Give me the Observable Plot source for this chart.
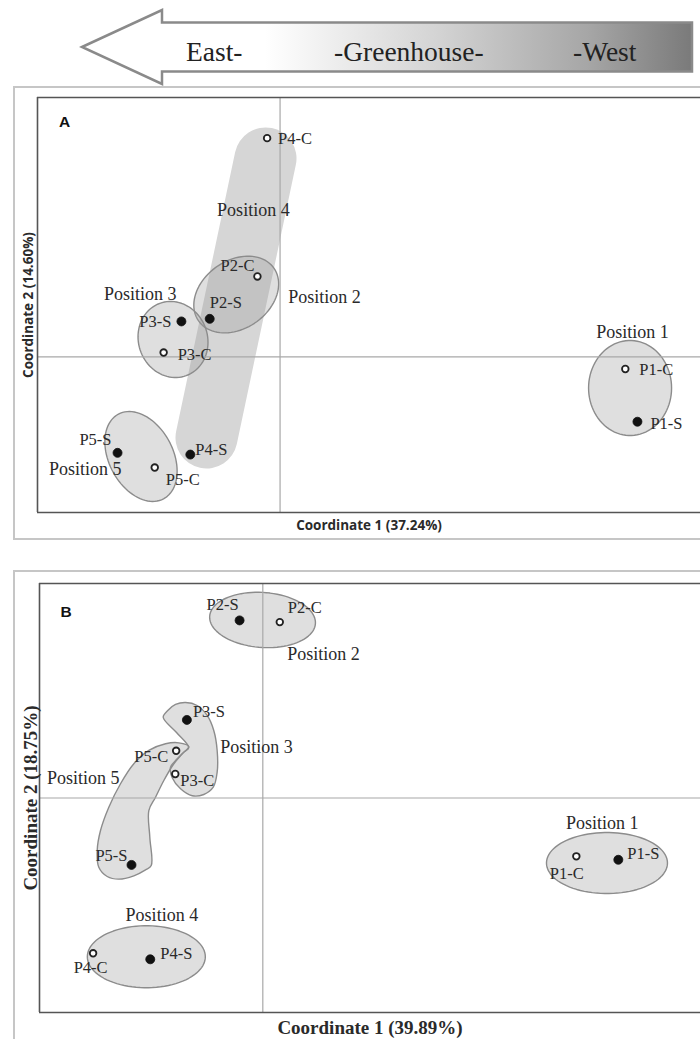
<!DOCTYPE html>
<html><head><meta charset="utf-8">
<script src="https://cdn.jsdelivr.net/npm/d3@7"></script>
<script src="https://cdn.jsdelivr.net/npm/@observablehq/plot@0.6"></script>
<style>
html,body{margin:0;padding:0;background:#fff;}
#page{position:relative;width:700px;height:1039px;overflow:hidden;background:#fff;}
.abs{position:absolute;left:0;}
.frame{position:absolute;border:2px solid #c6c6c6;box-sizing:border-box;pointer-events:none;z-index:3;}
</style></head>
<body><div id="page">
 <div id="arrow" class="abs" style="top:0"></div>
 <div id="panelA" class="abs" style="top:87px"></div>
 <div id="panelB" class="abs" style="top:571px"></div>
 <div class="frame" style="left:13px;top:86px;width:800px;height:454px"></div>
 <div class="frame" style="left:13px;top:570px;width:800px;height:520px"></div>
</div>
<script>
// ---------------- DATA ----------------
const directionLabels = ["East-", "-Greenhouse-", "-West"];

// Panel A
const samplesA = ["P1-C","P1-S","P2-C","P2-S","P3-C","P3-S","P4-C","P4-S","P5-C","P5-S"];
const coord1A  = [0.427, 0.442, -0.028, -0.087, -0.144, -0.122, -0.016, -0.111, -0.155, -0.201];
const coord2A  = [-0.014, -0.075, 0.093, 0.044, 0.005, 0.041, 0.253, -0.113, -0.128, -0.111];
const positionsA  = ["Position 1","Position 2","Position 3","Position 4","Position 5"];
const posLabelXA  = [0.436, 0.055, -0.173, -0.033, -0.241];
const posLabelYA  = [0.029, 0.069, 0.073, 0.170, -0.130];
const axisTitlesA = ["Coordinate 1 (37.24%)", "Coordinate 2 (14.60%)"];

// Panel B
const samplesB = ["P1-C","P1-S","P2-C","P2-S","P3-C","P3-S","P4-C","P4-S","P5-C","P5-S"];
const coord1B  = [0.351, 0.398, 0.019, -0.026, -0.098, -0.085, -0.190, -0.126, -0.097, -0.147];
const coord2B  = [-0.068, -0.072, 0.205, 0.207, 0.028, 0.091, -0.181, -0.188, 0.055, -0.078];
const positionsB  = ["Position 1","Position 2","Position 3","Position 4","Position 5"];
const posLabelXB  = [0.380, 0.068, -0.007, -0.113, -0.201];
const posLabelYB  = [-0.029, 0.168, 0.059, -0.137, 0.023];
const axisTitlesB = ["Coordinate 1 (39.89%)", "Coordinate 2 (18.75%)"];

// Group hulls (cluster outlines) in coordinate units
const hullsA = [
  {group:"Position 4", shape:"band", x:[-0.018, -0.091], y:[0.2295, -0.0933]},
  {group:"Position 1", shape:"ellipse", cx:0.4329, cy:-0.036, a:41.5, b:47.5, angle:0},
  {group:"Position 2", shape:"ellipse", cx:-0.0542, cy:0.0721, a:46, b:34, angle:-35},
  {group:"Position 3", shape:"ellipse", cx:-0.1324, cy:0.0201, a:38.5, b:34.5, angle:70},
  {group:"Position 5", shape:"ellipse", cx:-0.172, cy:-0.1152, a:48, b:32, angle:62}
];
const hullP3B_x = [-0.1115,-0.1064,-0.0977,-0.0865,-0.0735,-0.0623,-0.0549,-0.0511,-0.0511,-0.0555,-0.0661,-0.0790,-0.0921,-0.1014,-0.1033,-0.0958,-0.0885,-0.0829,-0.0966];
const hullP3B_y = [0.0942,0.1020,0.1090,0.1113,0.1078,0.0962,0.0787,0.0554,0.0301,0.0126,0.0041,0.0026,0.0107,0.0235,0.0359,0.0457,0.0534,0.0585,0.0763];
const hullP5B_x = [-0.0829,-0.0940,-0.1089,-0.1276,-0.1444,-0.1593,-0.1724,-0.1817,-0.1854,-0.1836,-0.1742,-0.1612,-0.1444,-0.1313,-0.1249,-0.1265,-0.1276,-0.1201,-0.1108,-0.0996,-0.0902];
const hullP5B_y = [0.0600,0.0643,0.0632,0.0554,0.0399,0.0166,-0.0107,-0.0379,-0.0612,-0.0807,-0.0915,-0.0946,-0.0907,-0.0837,-0.0787,-0.0457,-0.0146,0.0009,0.0204,0.0399,0.0515];
const hullsB = [
  {group:"Position 1", shape:"ellipse", cx:0.3853, cy:-0.0758, a:60.5, b:30.5, angle:0},
  {group:"Position 2", shape:"ellipse", cx:-0.0003, cy:0.2075, a:53, b:27.5, angle:4},
  {group:"Position 4", shape:"ellipse", cx:-0.1304, cy:-0.185, a:59, b:31, angle:0},
  {group:"Position 3", shape:"outline", x:hullP3B_x, y:hullP3B_y},
  {group:"Position 5", shape:"outline", x:hullP5B_x, y:hullP5B_y}
];

// ---------------- LAYOUT (label placement: dx, dy, anchor) ----------------
const labelPlaceA = {
  "P1-C":[14,1,"start"], "P1-S":[13,2,"start"], "P2-C":[-3,-11,"end"], "P2-S":[0,-16,"start"],
  "P3-C":[14,2,"start"], "P3-S":[-10,0,"end"], "P4-C":[11,1,"start"], "P4-S":[5,-5,"start"],
  "P5-C":[11,12,"start"], "P5-S":[-6,-13,"end"]
};
const labelPlaceB = {
  "P1-C":[-9.5,17,"middle"], "P1-S":[9,-6,"start"], "P2-C":[8,-14,"start"], "P2-S":[-1,-16,"end"],
  "P3-C":[5,7,"start"], "P3-S":[6,-8,"start"], "P4-C":[-2.5,14,"middle"], "P4-S":[10,-6,"start"],
  "P5-C":[-8,6,"end"], "P5-S":[-4,-9,"end"]
};

// ---------------- ARROW HEADER ----------------
(function(){
  const svg = d3.select("#arrow").append("svg").attr("width",700).attr("height",87);
  const g = svg.append("defs").append("linearGradient").attr("id","arrowGrad")
    .attr("gradientUnits","userSpaceOnUse").attr("x1",82).attr("x2",692).attr("y1",0).attr("y2",0);
  [[0,"#ffffff"],[0.3,"#ffffff"],[0.58,"#d4d4d4"],[0.83,"#a6a6a6"],[1,"#7a7a7a"]]
    .forEach(([o,c]) => g.append("stop").attr("offset",o).attr("stop-color",c));
  svg.append("path").attr("d","M82,47L162,10L162,22.5L692,22.5L692,71.5L162,71.5L162,84Z")
    .attr("fill","url(#arrowGrad)").attr("stroke","#8a8a8a").attr("stroke-width",2.5).attr("stroke-linejoin","miter");
  const xs = [186, 334, 573];
  directionLabels.forEach((t,i) => svg.append("text").attr("x",xs[i]).attr("y",61)
    .attr("font-family","'Liberation Serif', serif").attr("font-size",27.5).attr("fill","#222").text(t));
})();

// ---------------- PANELS ----------------
function ellipseRing(h, kx, ky) {
  const th = h.angle*Math.PI/180, pts = [];
  for (let i = 0; i < 90; i++) {
    const t = i/90*2*Math.PI;
    const ex = h.a*Math.cos(t)*Math.cos(th) - h.b*Math.sin(t)*Math.sin(th);
    const ey = h.a*Math.cos(t)*Math.sin(th) + h.b*Math.sin(t)*Math.cos(th);
    pts.push({group:h.group, x:h.cx + ex/kx, y:h.cy - ey/ky});
  }
  return pts;
}

function panel(o) {
  const innerW = 700 - o.mL - o.mR, innerH = o.height - o.mT - o.mB;
  const kx = innerW/(o.xd[1]-o.xd[0]), ky = innerH/(o.yd[1]-o.yd[0]);
  const pts = o.samples.map((s,i) => ({name:s, x:o.c1[i], y:o.c2[i], filled:s.endsWith("S")}));
  const ell = [], outl = [], bands = [];
  o.hulls.forEach(h => {
    if (h.shape === "ellipse") ell.push(...ellipseRing(h, kx, ky));
    else if (h.shape === "outline") h.x.forEach((x,i) => outl.push({group:h.group, x, y:h.y[i]}));
    else if (h.shape === "band") h.x.forEach((x,i) => bands.push({group:h.group, x, y:h.y[i]}));
  });
  const posLab = o.positions.map((p,i) => ({name:p, x:o.px[i], y:o.py[i]}));
  const hullStyle = {x:"x", y:"y", z:"group", fill:"#9a9a9a", fillOpacity:0.32, stroke:"#8c8c8c", strokeWidth:1.4};
  const serif = "'Liberation Serif', 'Times New Roman', serif";
  const marks = [
    bands.length ? Plot.line(bands, {x:"x", y:"y", z:"group", stroke:"#d6d6d6", strokeWidth:62, strokeLinecap:"round"}) : null,
    ell.length ? Plot.line(ell, {...hullStyle, curve:"linear-closed"}) : null,
    outl.length ? Plot.line(outl, {...hullStyle, curve:"catmull-rom-closed"}) : null,
    Plot.ruleX([0], {stroke:"#a8a8a8", strokeWidth:1.2}),
    Plot.ruleY([0], {stroke:"#a8a8a8", strokeWidth:1.2}),
    Plot.ruleX([o.xd[0]], {stroke:"#555", strokeWidth:1.6}),
    Plot.ruleY([o.yd[0], o.yd[1]], {stroke:"#555", strokeWidth:1.6}),
    Plot.dot(pts.filter(d => d.filled), {x:"x", y:"y", r:4.5, fill:"#111", stroke:"#111", strokeWidth:0.8}),
    Plot.dot(pts.filter(d => !d.filled), {x:"x", y:"y", r:3.3, fill:"#fff", stroke:"#222", strokeWidth:1.8}),
    ...pts.map(d => {
      const [dx, dy, anchor] = o.place[d.name];
      return Plot.text([d], {x:"x", y:"y", text:"name", dx, dy, textAnchor:anchor,
        fontFamily:serif, fontSize:16.5, fill:"#2a2a2a"});
    }),
    Plot.text(posLab, {x:"x", y:"y", text:"name", fontFamily:serif, fontSize:18, fill:"#2a2a2a"}),
    Plot.text([o.letter], {frameAnchor:"top-left", dx:o.letterDx, dy:o.letterDy, text:d => d,
      textAnchor:"middle", lineAnchor:"middle",
      fontFamily:"'Liberation Sans', Arial, sans-serif", fontWeight:"bold", fontSize:15.5, fill:"#111"}),
    Plot.text([o.titles[0]], {frameAnchor:"bottom", dy:o.xTitleDy, text:d => d,
      textAnchor:"middle", lineAnchor:"middle",
      fontFamily:o.titleFont, fontWeight:"bold", fontSize:o.titleSize, fill:"#2a2a2a"}),
    Plot.text([o.titles[1]], {frameAnchor:"left", dx:o.yTitleDx, rotate:-90, text:d => d,
      textAnchor:"middle", lineAnchor:"middle",
      fontFamily:o.titleFont, fontWeight:"bold", fontSize:o.titleSize, fill:"#2a2a2a"})
  ].filter(Boolean);
  return Plot.plot({
    width:700, height:o.height,
    marginTop:o.mT, marginBottom:o.mB, marginLeft:o.mL, marginRight:o.mR,
    x:{domain:o.xd, axis:null}, y:{domain:o.yd, axis:null},
    style:{background:"transparent", overflow:"visible", fontFamily:serif},
    marks
  });
}

document.getElementById("panelA").appendChild(panel({
  height:453, mT:10, mB:28, mL:37, mR:0, xd:[-0.3,0.52], yd:[-0.18,0.3],
  samples:samplesA, c1:coord1A, c2:coord2A, hulls:hullsA, place:labelPlaceA,
  positions:positionsA, px:posLabelXA, py:posLabelYA, titles:axisTitlesA,
  letter:"A", letterDx:27, letterDy:25,
  titleFont:"'Open Sans', 'Liberation Sans', sans-serif", titleSize:13.5, xTitleDy:13, yTitleDx:-9
}));
document.getElementById("panelB").appendChild(panel({
  height:468, mT:12, mB:27, mL:39, mR:0, xd:[-0.25,0.49], yd:[-0.25,0.25],
  samples:samplesB, c1:coord1B, c2:coord2B, hulls:hullsB, place:labelPlaceB,
  positions:positionsB, px:posLabelXB, py:posLabelYB, titles:axisTitlesB,
  letter:"B", letterDx:26.5, letterDy:29,
  titleFont:"'Liberation Serif', 'Times New Roman', serif", titleSize:19, xTitleDy:15, yTitleDx:-9
}));
</script>
</body></html>
